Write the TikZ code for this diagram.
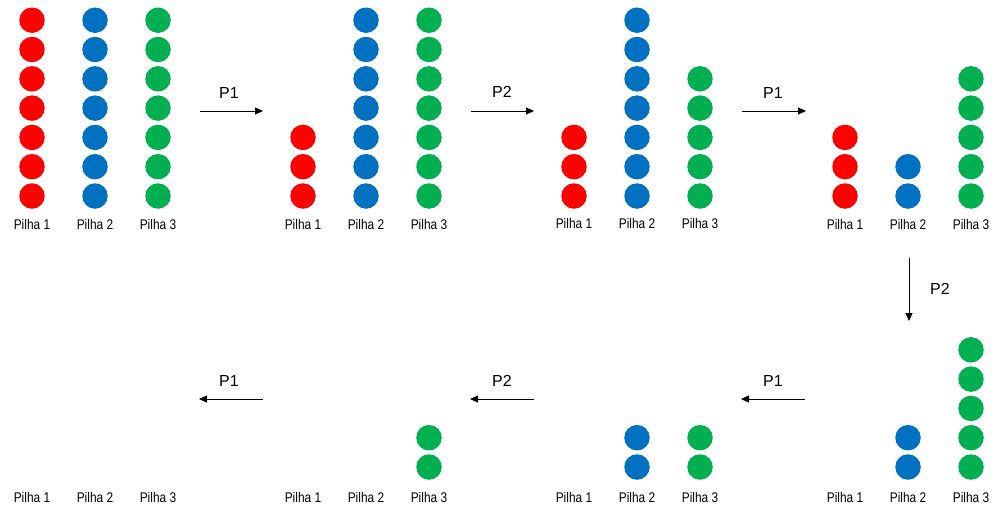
\documentclass[tikz,border=0pt]{standalone}
\usepackage{fontspec}
\setmainfont{Liberation Sans}
\newfontfamily\pilhafont[FakeStretch=0.85]{Liberation Sans}
\usetikzlibrary{arrows.meta}
\definecolor{discred}{HTML}{FF0000}
\definecolor{discblue}{HTML}{0070C0}
\definecolor{discgreen}{HTML}{00B050}
\tikzset{
  disc/.style={circle, inner sep=0pt, minimum size=25.5pt, fill=#1},
  pilhalabel/.style={font=\pilhafont\fontsize{14}{14}\selectfont, inner sep=0pt},
  movelabel/.style={font=\fontsize{16}{16}\selectfont, inner sep=0pt},
  move/.style={draw=black, line width=0.8pt, -{Triangle[length=8pt,width=7pt]}}
}
% one state: name, left x, y of lowest disc, y of labels, red/blue/green counts
\newcommand\estado[7]{%
  \foreach \c/\n [count=\p] in {discred/#5, discblue/#6, discgreen/#7} {
    \pgfmathsetmacro\px{#2+63*(\p-1)}
    \node[pilhalabel] (#1-l\p) at (\px,#4) {Pilha \p};
    \ifnum\n>0
      \foreach \k in {1,...,\n} {
        \node[disc=\c] (#1-p\p-\k) at (\px,{#3-29.3*(\k-1)}) {};
      }
    \fi
  }
}
\begin{document}
\begin{tikzpicture}[x=1pt,y=-1pt]
\useasboundingbox (0,0) rectangle (994,507);

% states, top row left to right, then bottom row right to left
\estado{a}{32}{196}{224}{7}{7}{7}
\estado{b}{303}{196}{224}{3}{7}{7}
\estado{c}{574}{196}{223}{3}{7}{5}
\estado{d}{845}{196}{224}{3}{2}{5}
\estado{e}{845}{467}{497}{0}{2}{5}
\estado{f}{574}{467}{497}{0}{2}{2}
\estado{g}{303}{467}{497}{0}{0}{2}
\estado{h}{32}{467}{497}{0}{0}{0}

% move arrows
\coordinate (m1s) at (200,111); \coordinate (m1e) at (263,111);
\coordinate (m2s) at (471,111); \coordinate (m2e) at (534,111);
\coordinate (m3s) at (742,111); \coordinate (m3e) at (806,111);
\coordinate (m4s) at (909,258); \coordinate (m4e) at (909,321);
\coordinate (m5s) at (805,399); \coordinate (m5e) at (741,399);
\coordinate (m6s) at (534,399); \coordinate (m6e) at (470,399);
\coordinate (m7s) at (263,399); \coordinate (m7e) at (199,399);

\draw[move] (m1s) -- (m1e);
\draw[move] (m2s) -- (m2e);
\draw[move] (m3s) -- (m3e);
\draw[move] (m4s) -- (m4e);
\draw[move] (m5s) -- (m5e);
\draw[move] (m6s) -- (m6e);
\draw[move] (m7s) -- (m7e);

\node[movelabel] (t1) at (229,93) {P1};
\node[movelabel] (t2) at (502,92) {P2};
\node[movelabel] (t3) at (773,93) {P1};
\node[movelabel] (t4) at (940,289) {P2};
\node[movelabel] (t5) at (773,381) {P1};
\node[movelabel] (t6) at (502,381) {P2};
\node[movelabel] (t7) at (229,381) {P1};
\end{tikzpicture}
\end{document}
